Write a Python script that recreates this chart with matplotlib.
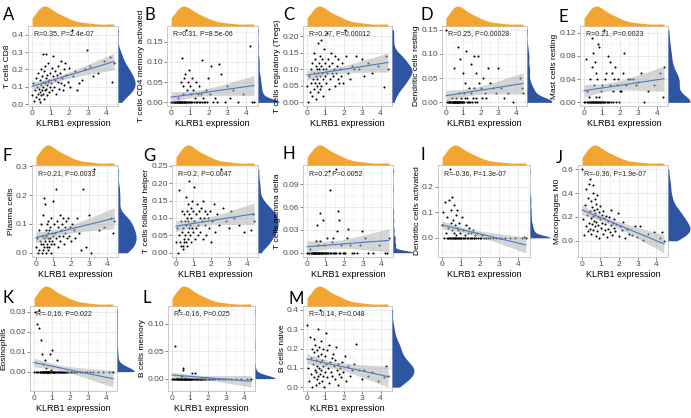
import matplotlib
matplotlib.use("Agg")
import matplotlib.pyplot as plt
import numpy as np
from matplotlib.ticker import AutoMinorLocator

# KLRB1 expression (shared x for every panel), sorted ascending
klrb1 = [0.02, 0.07, 0.12, 0.17, 0.21, 0.25, 0.28, 0.31, 0.34, 0.37,
         0.40, 0.42, 0.44, 0.46, 0.48, 0.50, 0.52, 0.54, 0.56, 0.58,
         0.60, 0.62, 0.63, 0.65, 0.67, 0.69, 0.70, 0.72, 0.74, 0.76,
         0.78, 0.80, 0.82, 0.84, 0.86, 0.89, 0.91, 0.94, 0.97, 1.00,
         1.03, 1.06, 1.09, 1.12, 1.15, 1.19, 1.23, 1.27, 1.31, 1.35,
         1.39, 1.43, 1.47, 1.51, 1.55, 1.59, 1.63, 1.67, 1.71, 1.75,
         1.80, 1.86, 1.92, 1.99, 2.06, 2.13, 2.22, 2.32, 2.43, 2.55,
         2.68, 2.85, 2.98, 3.12, 3.30, 3.55, 3.85, 4.20, 4.32, 4.40]

t_cd8 = [0.05, 0.12, 0.02, 0.08, 0.15, 0.04, 0.10, 0.06, 0.18, 0.03,
         0.09, 0.14, 0.01, 0.07, 0.20, 0.11, 0.05, 0.16, 0.08, 0.13,
         0.29, 0.06, 0.10, 0.19, 0.03, 0.12, 0.22, 0.08, 0.15, 0.09,
         0.29, 0.11, 0.05, 0.17, 0.13, 0.24, 0.07, 0.14, 0.10, 0.18,
         0.12, 0.21, 0.08, 0.16, 0.28, 0.10, 0.19, 0.14, 0.06, 0.17,
         0.13, 0.22, 0.09, 0.18, 0.12, 0.25, 0.15, 0.08, 0.20, 0.11,
         0.24, 0.17, 0.13, 0.21, 0.10, 0.43, 0.16, 0.19, 0.08, 0.12,
         0.14, 0.20, 0.31, 0.22, 0.16, 0.18, 0.25, 0.27, 0.13, 0.24]

t_cd4_mem = [0.00, 0.00, 0.00, 0.00, 0.00, 0.00, 0.00, 0.00, 0.00, 0.01,
             0.00, 0.00, 0.00, 0.00, 0.00, 0.00, 0.00, 0.05, 0.00, 0.00,
             0.11, 0.00, 0.02, 0.00, 0.04, 0.00, 0.00, 0.06, 0.00, 0.00,
             0.07, 0.00, 0.18, 0.03, 0.00, 0.05, 0.00, 0.08, 0.00, 0.00,
             0.04, 0.00, 0.02, 0.06, 0.00, 0.03, 0.00, 0.01, 0.05, 0.00,
             0.00, 0.02, 0.00, 0.04, 0.00, 0.02, 0.00, 0.105, 0.01, 0.00,
             0.00, 0.03, 0.00, 0.06, 0.02, 0.09, 0.00, 0.01, 0.00, 0.095,
             0.07, 0.00, 0.04, 0.01, 0.03, 0.00, 0.02, 0.14, 0.00, 0.00]

tregs = [0.05, 0.00, 0.08, 0.03, 0.10, 0.06, 0.12, 0.02, 0.07, 0.15,
         0.04, 0.09, 0.06, 0.13, 0.01, 0.08, 0.11, 0.05, 0.10, 0.07,
         0.18, 0.03, 0.09, 0.12, 0.06, 0.10, 0.04, 0.14, 0.08, 0.19,
         0.11, 0.05, 0.09, 0.13, 0.07, 0.10, 0.02, 0.16, 0.08, 0.12,
         0.06, 0.10, 0.21, 0.09, 0.13, 0.04, 0.11, 0.07, 0.15, 0.09,
         0.12, 0.08, 0.10, 0.05, 0.14, 0.09, 0.11, 0.07, 0.13, 0.06,
         0.10, 0.08, 0.12, 0.06, 0.22, 0.14, 0.09, 0.07, 0.11, 0.10,
         0.14, 0.10, 0.13, 0.08, 0.12, 0.09, 0.11, 0.045, 0.14, 0.10]

dc_resting = [0.15, 0.00, 0.00, 0.00, 0.00, 0.00, 0.00, 0.00, 0.00, 0.01,
              0.00, 0.00, 0.00, 0.00, 0.07, 0.00, 0.00, 0.00, 0.00, 0.00,
              0.00, 0.01, 0.00, 0.00, 0.00, 0.115, 0.00, 0.00, 0.00, 0.02,
              0.00, 0.09, 0.00, 0.00, 0.01, 0.00, 0.00, 0.00, 0.06, 0.00,
              0.02, 0.00, 0.01, 0.04, 0.105, 0.00, 0.01, 0.00, 0.03, 0.00,
              0.00, 0.02, 0.08, 0.00, 0.01, 0.03, 0.095, 0.00, 0.06, 0.01,
              0.00, 0.095, 0.04, 0.03, 0.01, 0.05, 0.02, 0.01, 0.07, 0.04,
              0.03, 0.02, 0.07, 0.03, 0.01, 0.02, 0.00, 0.05, 0.03, 0.02]

mast_resting = [0.00, 0.00, 0.075, 0.00, 0.02, 0.00, 0.00, 0.01, 0.04, 0.00,
                0.00, 0.00, 0.06, 0.11, 0.00, 0.00, 0.085, 0.00, 0.00, 0.03,
                0.00, 0.07, 0.00, 0.05, 0.00, 0.01, 0.00, 0.04, 0.00, 0.00,
                0.00, 0.10, 0.00, 0.01, 0.095, 0.00, 0.00, 0.02, 0.00, 0.00,
                0.03, 0.00, 0.125, 0.00, 0.04, 0.00, 0.05, 0.00, 0.08, 0.00,
                0.00, 0.07, 0.03, 0.00, 0.05, 0.00, 0.02, 0.04, 0.06, 0.00,
                0.03, 0.04, 0.00, 0.02, 0.02, 0.05, 0.085, 0.03, 0.04, 0.04,
                0.04, 0.03, 0.035, 0.05, 0.00, 0.02, 0.03, 0.05, 0.01, 0.06]

plasma = [0.02, 0.05, 0.00, 0.08, 0.01, 0.04, 0.03, 0.10, 0.00, 0.06,
          0.03, 0.13, 0.01, 0.05, 0.19, 0.02, 0.17, 0.04, 0.08, 0.00,
          0.06, 0.02, 0.10, 0.03, 0.07, 0.01, 0.05, 0.11, 0.04, 0.08,
          0.02, 0.09, 0.05, 0.00, 0.12, 0.03, 0.07, 0.04, 0.18, 0.06,
          0.10, 0.03, 0.07, 0.22, 0.05, 0.11, 0.02, 0.09, 0.06, 0.13,
          0.04, 0.08, 0.10, 0.06, 0.12, 0.03, 0.09, 0.07, 0.11, 0.05,
          0.12, 0.06, 0.09, 0.04, 0.10, 0.08, 0.05, 0.12, 0.07, 0.01,
          0.22, 0.02, 0.13, 0.00, 0.29, 0.08, 0.09, 0.12, 0.07, 0.11]

tfh = [0.03, 0.07, 0.00, 0.05, 0.18, 0.03, 0.09, 0.02, 0.06, 0.12,
       0.02, 0.07, 0.01, 0.04, 0.11, 0.03, 0.09, 0.05, 0.16, 0.03,
       0.08, 0.12, 0.02, 0.10, 0.06, 0.14, 0.04, 0.09, 0.205, 0.07,
       0.11, 0.05, 0.08, 0.13, 0.03, 0.10, 0.07, 0.15, 0.06, 0.12,
       0.09, 0.19, 0.04, 0.11, 0.07, 0.14, 0.08, 0.05, 0.12, 0.10,
       0.06, 0.13, 0.09, 0.15, 0.04, 0.10, 0.08, 0.12, 0.05, 0.11,
       0.10, 0.07, 0.12, 0.03, 0.09, 0.14, 0.06, 0.11, 0.08, 0.24,
       0.13, 0.09, 0.07, 0.12, 0.10, 0.08, 0.06, 0.065, 0.11, 0.09]

t_gd = [0.00, 0.00, 0.00, 0.005, 0.00, 0.00, 0.00, 0.00, 0.00, 0.00,
        0.00, 0.00, 0.00, 0.00, 0.015, 0.00, 0.00, 0.00, 0.036, 0.00,
        0.00, 0.00, 0.01, 0.00, 0.00, 0.016, 0.00, 0.052, 0.00, 0.00,
        0.00, 0.00, 0.00, 0.00, 0.043, 0.00, 0.00, 0.01, 0.00, 0.00,
        0.00, 0.00, 0.02, 0.00, 0.00, 0.108, 0.083, 0.00, 0.00, 0.014,
        0.00, 0.02, 0.00, 0.00, 0.11, 0.00, 0.028, 0.055, 0.00, 0.043,
        0.00, 0.01, 0.00, 0.00, 0.00, 0.02, 0.031, 0.01, 0.00, 0.00,
        0.00, 0.01, 0.029, 0.02, 0.00, 0.00, 0.01, 0.00, 0.00, 0.02]

dc_activated = [0.05, 0.10, 0.00, 0.14, 0.02, 0.00, 0.08, 0.00, 0.04, 0.00,
                0.15, 0.27, 0.00, 0.06, 0.00, 0.11, 0.03, 0.00, 0.16, 0.00,
                0.07, 0.00, 0.02, 0.13, 0.00, 0.05, 0.00, 0.09, 0.01, 0.00,
                0.04, 0.00, 0.11, 0.00, 0.03, 0.00, 0.06, 0.00, 0.02, 0.00,
                0.00, 0.08, 0.00, 0.03, 0.00, 0.01, 0.00, 0.05, 0.00, 0.02,
                0.00, 0.04, 0.00, 0.00, 0.02, 0.00, 0.03, 0.00, 0.00, 0.01,
                0.00, 0.02, 0.00, 0.00, 0.00, 0.01, 0.00, 0.00, 0.00, 0.00,
                0.00, 0.00, 0.00, 0.00, 0.00, 0.00, 0.00, 0.00, 0.005, 0.00]

mac_m0 = [0.60, 0.18, 0.05, 0.30, 0.12, 0.43, 0.22, 0.08, 0.36, 0.15,
          0.48, 0.25, 0.10, 0.52, 0.19, 0.33, 0.06, 0.28, 0.14, 0.40,
          0.21, 0.47, 0.09, 0.26, 0.17, 0.35, 0.12, 0.23, 0.04, 0.31,
          0.16, 0.27, 0.08, 0.38, 0.20, 0.13, 0.24, 0.02, 0.18, 0.29,
          0.11, 0.22, 0.15, 0.06, 0.25, 0.19, 0.09, 0.14, 0.21, 0.03,
          0.17, 0.10, 0.20, 0.07, 0.13, 0.26, 0.05, 0.15, 0.11, 0.18,
          0.08, 0.14, 0.23, 0.04, 0.12, 0.09, 0.16, 0.02, 0.10, 0.06,
          0.05, 0.12, 0.03, 0.12, 0.01, 0.06, 0.07, 0.02, 0.07, 0.00]

eosinophils = [0.00, 0.030, 0.00, 0.00, 0.024, 0.00, 0.022, 0.031, 0.00, 0.00,
               0.016, 0.00, 0.00, 0.00, 0.009, 0.00, 0.00, 0.004, 0.00, 0.00,
               0.00, 0.006, 0.00, 0.00, 0.002, 0.00, 0.00, 0.00, 0.00, 0.00,
               0.00, 0.00, 0.00, 0.00, 0.00, 0.00, 0.009, 0.00, 0.001, 0.00,
               0.011, 0.00, 0.00, 0.00, 0.00, 0.00, 0.00, 0.006, 0.00, 0.00,
               0.00, 0.00, 0.00, 0.00, 0.00, 0.00, 0.00, 0.00, 0.00, 0.00,
               0.00, 0.00, 0.00, 0.00, 0.00, 0.00, 0.00, 0.00, 0.00, 0.00,
               0.00, 0.00, 0.00, 0.00, 0.00, 0.00, 0.00, 0.00, 0.00, 0.00]

b_memory = [0.00, 0.00, 0.00, 0.00, 0.060, 0.00, 0.00, 0.002, 0.00, 0.00,
            0.125, 0.00, 0.00, 0.00, 0.00, 0.004, 0.00, 0.00, 0.00, 0.00,
            0.005, 0.020, 0.015, 0.00, 0.00, 0.00, 0.00, 0.00, 0.002, 0.00,
            0.00, 0.00, 0.00, 0.00, 0.00, 0.00, 0.00, 0.00, 0.00, 0.00,
            0.00, 0.00, 0.00, 0.00, 0.010, 0.00, 0.00, 0.00, 0.011, 0.00,
            0.00, 0.00, 0.00, 0.00, 0.00, 0.00, 0.00, 0.00, 0.00, 0.00,
            0.00, 0.00, 0.00, 0.00, 0.00, 0.00, 0.00, 0.00, 0.00, 0.00,
            0.00, 0.00, 0.00, 0.00, 0.00, 0.00, 0.00, 0.00, 0.00, 0.00]

b_naive = [0.32, 0.10, 0.03, 0.26, 0.15, 0.07, 0.20, 0.00, 0.12, 0.25,
           0.05, 0.18, 0.09, 0.22, 0.01, 0.14, 0.08, 0.19, 0.04, 0.11,
           0.30, 0.06, 0.16, 0.02, 0.21, 0.10, 0.40, 0.13, 0.07, 0.17,
           0.09, 0.24, 0.03, 0.14, 0.20, 0.06, 0.11, 0.00, 0.16, 0.08,
           0.28, 0.12, 0.05, 0.19, 0.10, 0.22, 0.02, 0.13, 0.08, 0.15,
           0.06, 0.17, 0.11, 0.04, 0.14, 0.21, 0.09, 0.01, 0.12, 0.07,
           0.10, 0.05, 0.13, 0.08, 0.16, 0.03, 0.11, 0.06, 0.09, 0.12,
           0.225, 0.09, 0.04, 0.09, 0.06, 0.08, 0.03, 0.05, 0.11, 0.06]

cell_values = [t_cd8, t_cd4_mem, tregs, dc_resting, mast_resting,
               plasma, tfh, t_gd, dc_activated, mac_m0,
               eosinophils, b_memory, b_naive]
cell_names = ["T cells CD8", "T cells CD4 memory activated", "T cells regulatory (Tregs)",
              "Dendritic cells resting", "Mast cells resting",
              "Plasma cells", "T cells follicular helper", "T cells gamma delta",
              "Dendritic cells activated", "Macrophages M0",
              "Eosinophils", "B cells memory", "B cells naive"]
stat_labels = ["R=0.35, P=2.4e-07", "R=0.31, P=8.5e-06", "R=0.27, P=0.00012",
               "R=0.25, P=0.00028", "R=0.21, P=0.0023",
               "R=0.21, P=0.0033", "R=0.2, P=0.0047", "R=0.2, P=0.0052",
               "R=-0.36, P=1.3e-07", "R=-0.36, P=1.9e-07",
               "R=-0.16, P=0.022", "R=-0.16, P=0.025", "R=-0.14, P=0.048"]
panel_letters = list("ABCDEFGHIJKLM")
y_tick_labels = [["0.0", "0.1", "0.2", "0.3", "0.4"],
                 ["0.00", "0.05", "0.10", "0.15"],
                 ["0.00", "0.05", "0.10", "0.15", "0.20"],
                 ["0.00", "0.05", "0.10", "0.15"],
                 ["0.00", "0.04", "0.08", "0.12"],
                 ["0.0", "0.1", "0.2", "0.3"],
                 ["0.00", "0.05", "0.10", "0.15", "0.20", "0.25"],
                 ["0.00", "0.03", "0.06", "0.09"],
                 ["0.0", "0.1", "0.2"],
                 ["0.0", "0.2", "0.4", "0.6"],
                 ["0.00", "0.01", "0.02", "0.03"],
                 ["0.00", "0.05", "0.10"],
                 ["0.0", "0.1", "0.2", "0.3", "0.4"]]
x_tick_labels = ["0", "1", "2", "3", "4"]

# layout in pixels: (box left, box right, right-marginal end, box top, box bottom)
W, H = 691, 418
boxes = [(28, 118, 136, 26, 106), (167, 258, 280, 26, 106), (303, 392, 413, 26, 106),
         (442, 527, 553, 26, 106), (580, 668, 691, 26, 106),
         (32, 118, 137, 165, 257), (172, 258, 279, 165, 257), (303, 393, 415, 165, 257),
         (438, 530, 551, 165, 257), (578, 668, 691, 165, 257),
         (30, 117, 135, 306, 391), (168, 255, 276, 306, 391), (303, 392, 415, 306, 391)]
letter_pos = [(3, 15), (145, 15), (283, 15), (421, 15), (558, 17),
              (3, 156), (143, 156), (282, 154), (420, 155), (556, 158),
              (3, 298), (143, 298), (288, 299)]

ORANGE = "#F2A530"
BLUE = "#2D55A4"
LINE = "#4D78C8"

plt.rcParams['font.family'] = ['Liberation Sans', 'DejaVu Sans']


def px_axes(fig, l, r, t, b):
    return fig.add_axes([l / W, 1 - b / H, (r - l) / W, (b - t) / H])


def kde(v, grid):
    v = np.asarray(v, float)
    n = len(v)
    sd = v.std(ddof=1)
    q75, q25 = np.percentile(v, [75, 25])
    lo = min(sd, (q75 - q25) / 1.34) if q75 > q25 else sd
    bw = 0.9 * lo * n ** -0.2
    z = (grid[:, None] - v[None, :]) / bw
    return np.exp(-0.5 * z ** 2).sum(1) / (n * bw * np.sqrt(2 * np.pi))


fig = plt.figure(figsize=(W / 100, H / 100), dpi=100)
x = np.asarray(klrb1)

for i, y in enumerate(cell_values):
    y = np.asarray(y)
    l, r, mr, t, b = boxes[i]
    ax = px_axes(fig, l, r, t, b)
    ax.set_axisbelow(True)
    ax.scatter(x, y, s=2.2, c="black", linewidths=0, zorder=2)

    # linear fit with 95% band
    slope, icpt = np.polyfit(x, y, 1)
    xs = np.linspace(x.min(), x.max(), 100)
    yhat = icpt + slope * xs
    n = len(x)
    s = np.sqrt(np.sum((y - (icpt + slope * x)) ** 2) / (n - 2))
    se = s * np.sqrt(1 / n + (xs - x.mean()) ** 2 / np.sum((x - x.mean()) ** 2))
    ax.fill_between(xs, yhat - 1.99 * se, yhat + 1.99 * se, color="#B3B3B3", alpha=0.55,
                    linewidth=0, zorder=3)
    ax.plot(xs, yhat, color=LINE, lw=0.8, zorder=4)

    ax.margins(0.05)
    yt = [float(v) for v in y_tick_labels[i]]
    ax.set_yticks(yt)
    ax.set_yticklabels(y_tick_labels[i])
    ax.set_xticks([float(v) for v in x_tick_labels])
    ax.set_xticklabels(x_tick_labels)
    ax.xaxis.set_minor_locator(AutoMinorLocator(2))
    ax.yaxis.set_minor_locator(AutoMinorLocator(2))
    ax.grid(True, which="major", color="#E6E6E6", lw=0.6)
    ax.grid(True, which="minor", color="#F2F2F2", lw=0.5)
    ax.tick_params(which="minor", length=0)
    ax.tick_params(which="major", length=2, width=0.5, color="#555555",
                   labelsize=6, labelcolor="#4D4D4D", pad=1)
    for sp in ax.spines.values():
        sp.set_color("#C8C8C8")
        sp.set_linewidth(0.7)
    ax.set_xlabel("KLRB1 expression", fontsize=6.5, labelpad=1.5)
    ax.set_ylabel(cell_names[i], fontsize=6, labelpad=1)
    ax.text(0.07, 0.91, stat_labels[i], transform=ax.transAxes, fontsize=5,
            ha="left", va="center", color="#222222", zorder=5)

    # top marginal: KLRB1 density
    xlim = ax.get_xlim()
    tx = px_axes(fig, l, r, t - 21, t)
    gx = np.linspace(x.min(), x.max(), 200)
    dx = kde(x, gx)
    tx.fill_between(gx, 0, dx, color=ORANGE, linewidth=0)
    tx.set_xlim(xlim)
    tx.set_ylim(0, dx.max() * 1.05)
    tx.axis("off")

    # right marginal: cell fraction density
    ylim = ax.get_ylim()
    rx = px_axes(fig, r, mr, t, b)
    gy = np.linspace(y.min(), y.max(), 300)
    dy = kde(y, gy)
    rx.fill_betweenx(gy, 0, dy, color=BLUE, linewidth=0)
    rx.set_ylim(ylim)
    rx.set_xlim(0, dy.max() * 1.05)
    rx.axis("off")

    lx, ly = letter_pos[i]
    fig.text(lx / W, 1 - ly / H, panel_letters[i], fontsize=12, family="Lato",
             ha="left", va="center", color="black")

fig.savefig("out.png", dpi=100)
